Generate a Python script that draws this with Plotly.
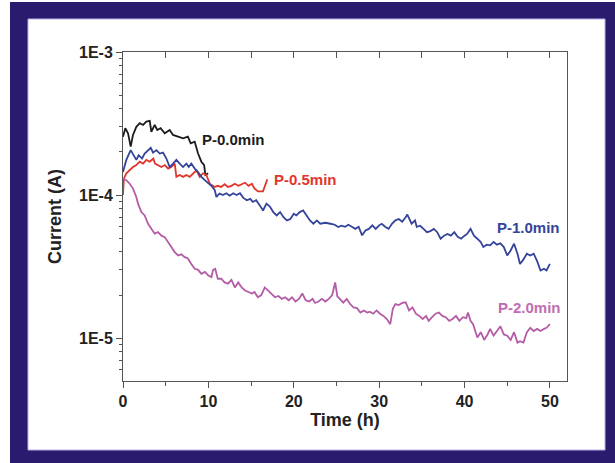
import math
import plotly.graph_objects as go

# ---------------- data ----------------
series_names = ["P-0.0min", "P-0.5min", "P-1.0min", "P-2.0min"]

t_p00 = [0, 0.27, 0.59, 0.9, 1.17, 1.56, 1.96, 2.35, 2.73, 3.13,
         3.32, 3.71, 4.02, 4.4, 4.89, 5.47, 5.86, 6.45, 7.03, 7.6,
         7.93, 8.4, 8.79, 9.18, 9.5, 9.65, 9.97]
i_p00 = [2.56e-4, 2.93e-4, 2.7e-4, 2.18e-4, 2.63e-4, 3.0e-4, 3.18e-4, 3.09e-4, 3.26e-4, 3.3e-4,
         2.77e-4, 3.09e-4, 2.85e-4, 2.93e-4, 2.7e-4, 2.85e-4, 2.63e-4, 2.56e-4, 2.49e-4, 2.56e-4,
         2.3e-4, 2.36e-4, 1.95e-4, 1.71e-4, 1.62e-4, 1.38e-4, 1.42e-4]

t_p05 = [0, 0.1, 0.39, 0.78, 1.17, 1.56, 1.96, 2.35, 2.73, 3.13,
         3.55, 3.75, 4.1, 4.5, 4.9, 5.28, 5.66, 6.06, 6.25, 6.64,
         7.03, 7.42, 7.81, 8.2, 8.6, 8.99, 9.38, 9.77, 10.16, 10.75,
         11.1, 11.5, 11.9, 12.3, 12.7, 13.1, 13.5, 13.9, 14.3, 14.7,
         15.1, 15.4, 15.8, 16.4, 16.6, 16.9]
i_p05 = [1.0e-4, 1.3e-4, 1.42e-4, 1.49e-4, 1.57e-4, 1.62e-4, 1.71e-4, 1.66e-4, 1.76e-4, 1.71e-4,
         1.8e-4, 1.66e-4, 1.62e-4, 1.57e-4, 1.62e-4, 1.53e-4, 1.57e-4, 1.66e-4, 1.34e-4, 1.38e-4,
         1.34e-4, 1.38e-4, 1.34e-4, 1.42e-4, 1.49e-4, 1.34e-4, 1.42e-4, 1.38e-4, 1.2e-4, 1.14e-4,
         1.16e-4, 1.14e-4, 1.19e-4, 1.14e-4, 1.16e-4, 1.2e-4, 1.16e-4, 1.19e-4, 1.22e-4, 1.16e-4,
         1.2e-4, 1.11e-4, 1.06e-4, 1.06e-4, 1.16e-4, 1.29e-4]

t_p10 = [0, 0.39, 0.9, 1.29, 1.56, 1.84, 2.23, 2.54, 2.93, 3.25,
         3.52, 3.91, 4.3, 4.69, 5.08, 5.47, 5.86, 6.25, 6.64, 7.03,
         7.42, 7.7, 8.0, 8.4, 8.79, 9.18, 9.58, 9.96, 10.35, 10.75,
         10.94, 11.3, 11.7, 12.1, 12.5, 12.9, 13.3, 13.7, 14.1, 14.5,
         14.9, 15.2, 15.6, 16.0, 16.4, 16.8, 17.2, 17.6, 18.0, 18.4,
         18.8, 19.2, 19.6, 20.0, 20.3, 20.7, 21.1, 21.5, 21.9, 22.3,
         22.7, 23.1, 23.7, 24.3, 24.8, 25.2, 25.6, 26.0, 26.4, 26.8,
         27.2, 27.6, 28.0, 28.4, 28.8, 29.2, 29.6, 30.0, 30.3, 30.7,
         31.1, 31.5, 31.9, 32.3, 32.7, 33.1, 33.3, 33.8, 34.2, 34.4,
         34.8, 35.2, 35.6, 36.0, 36.4, 36.8, 37.2, 37.6, 38.0, 38.4,
         38.8, 39.2, 39.6, 40.0, 40.3, 40.7, 41.1, 41.5, 41.9, 42.2,
         42.6, 43.0, 43.4, 43.8, 44.2, 44.6, 45.0, 45.4, 45.8, 46.2,
         46.5, 46.9, 47.3, 47.7, 48.1, 48.5, 48.9, 49.3, 49.6, 50.0]
i_p10 = [1.45e-4, 1.76e-4, 2.06e-4, 1.85e-4, 1.76e-4, 1.9e-4, 1.8e-4, 1.95e-4, 2.06e-4, 2.14e-4,
         1.98e-4, 2.06e-4, 1.95e-4, 1.98e-4, 1.8e-4, 1.57e-4, 1.66e-4, 1.76e-4, 1.66e-4, 1.57e-4,
         1.66e-4, 1.57e-4, 1.66e-4, 1.53e-4, 1.45e-4, 1.34e-4, 1.27e-4, 1.22e-4, 1.16e-4, 1.08e-4,
         9.7e-5, 1.025e-4, 1.0e-4, 1.03e-4, 9.9e-5, 1.03e-4, 1.0e-4, 1.03e-4, 9.55e-5, 9.2e-5,
         9.4e-5, 8.95e-5, 9.2e-5, 8.5e-5, 7.8e-5, 8.7e-5, 8.3e-5, 7.6e-5, 7.2e-5, 7.6e-5,
         7.0e-5, 6.65e-5, 6.8e-5, 7.4e-5, 7.2e-5, 7.6e-5, 7.8e-5, 7.2e-5, 6.65e-5, 6.3e-5,
         6.65e-5, 6.3e-5, 6.4e-5, 6.3e-5, 6.2e-5, 5.97e-5, 6.1e-5, 6.0e-5, 6.2e-5, 6.0e-5,
         5.8e-5, 6.0e-5, 5.23e-5, 5.66e-5, 5.8e-5, 6.14e-5, 5.8e-5, 6.14e-5, 6.3e-5, 6.0e-5,
         5.8e-5, 6.3e-5, 6.65e-5, 6.8e-5, 6.5e-5, 7.0e-5, 7.3e-5, 6.3e-5, 6.65e-5, 6.0e-5,
         6.1e-5, 5.8e-5, 5.5e-5, 5.6e-5, 5.8e-5, 5.5e-5, 4.95e-5, 5.2e-5, 5.35e-5, 5.2e-5,
         5.5e-5, 5.1e-5, 4.95e-5, 5.2e-5, 5.35e-5, 5.8e-5, 5.2e-5, 4.95e-5, 4.69e-5, 4.33e-5,
         4.5e-5, 4.45e-5, 4.7e-5, 4.5e-5, 4.6e-5, 4.33e-5, 3.78e-5, 4.1e-5, 4.57e-5, 3.89e-5,
         3.3e-5, 3.55e-5, 3.89e-5, 3.78e-5, 3.89e-5, 3.45e-5, 2.97e-5, 3.05e-5, 2.97e-5, 3.3e-5]

t_p20 = [0, 0.39, 0.78, 1.17, 1.56, 1.76, 2.15, 2.54, 2.93, 3.3,
         3.71, 4.1, 4.5, 4.89, 5.28, 5.66, 6.06, 6.45, 6.84, 7.23,
         7.6, 8.0, 8.4, 8.8, 9.18, 9.6, 9.96, 10.35, 10.55, 10.8,
         11.1, 11.5, 11.9, 12.3, 12.7, 13.1, 13.5, 13.9, 14.3, 14.7,
         15.1, 15.4, 15.8, 16.2, 16.6, 17.0, 17.4, 17.8, 18.2, 18.6,
         19.0, 19.4, 19.8, 20.2, 20.6, 21.0, 21.4, 21.8, 22.2, 22.5,
         22.9, 23.3, 23.7, 24.1, 24.5, 24.85, 25.1, 25.4, 25.8, 26.2,
         26.6, 27.0, 27.4, 27.8, 28.2, 28.6, 28.9, 29.3, 29.7, 30.1,
         30.5, 30.9, 31.3, 31.6, 31.9, 32.3, 32.7, 33.1, 33.5, 33.9,
         34.3, 34.7, 35.1, 35.5, 35.8, 36.2, 36.6, 37.0, 37.4, 37.8,
         38.2, 38.6, 39.0, 39.4, 39.8, 40.2, 40.4, 40.7, 41.0, 41.5,
         41.9, 42.3, 42.7, 43.0, 43.4, 43.8, 44.2, 44.6, 45.0, 45.4,
         45.8, 46.2, 46.5, 46.9, 47.3, 47.7, 48.1, 48.5, 48.9, 49.3,
         49.6, 50.0]
i_p20 = [1.3e-4, 1.27e-4, 1.2e-4, 1.11e-4, 9.7e-5, 8.7e-5, 7.6e-5, 7.2e-5, 6.3e-5, 5.8e-5,
         5.37e-5, 5.5e-5, 5.2e-5, 5.08e-5, 4.69e-5, 4.33e-5, 3.99e-5, 3.78e-5, 3.85e-5, 3.68e-5,
         3.6e-5, 3.3e-5, 3.05e-5, 3.0e-5, 2.81e-5, 2.9e-5, 2.75e-5, 2.67e-5, 3.0e-5, 3.05e-5,
         2.6e-5, 2.6e-5, 2.45e-5, 2.4e-5, 2.55e-5, 2.26e-5, 2.45e-5, 2.26e-5, 2.15e-5, 2.1e-5,
         2.05e-5, 2.1e-5, 1.93e-5, 2.0e-5, 2.26e-5, 2.15e-5, 2.05e-5, 1.93e-5, 1.97e-5, 1.88e-5,
         1.93e-5, 1.84e-5, 1.93e-5, 1.8e-5, 1.88e-5, 2.05e-5, 1.84e-5, 1.8e-5, 1.88e-5, 1.76e-5,
         1.8e-5, 1.88e-5, 1.8e-5, 1.88e-5, 2.0e-5, 2.45e-5, 1.96e-5, 1.88e-5, 1.77e-5, 1.88e-5,
         1.73e-5, 1.64e-5, 1.62e-5, 1.51e-5, 1.56e-5, 1.51e-5, 1.53e-5, 1.48e-5, 1.56e-5, 1.48e-5,
         1.43e-5, 1.36e-5, 1.25e-5, 1.6e-5, 1.73e-5, 1.7e-5, 1.76e-5, 1.78e-5, 1.56e-5, 1.64e-5,
         1.48e-5, 1.43e-5, 1.36e-5, 1.43e-5, 1.32e-5, 1.4e-5, 1.48e-5, 1.51e-5, 1.43e-5, 1.4e-5,
         1.32e-5, 1.36e-5, 1.43e-5, 1.32e-5, 1.4e-5, 1.38e-5, 1.51e-5, 1.32e-5, 1.25e-5, 1.01e-5,
         1.1e-5, 9.7e-6, 1.06e-5, 1.16e-5, 1.04e-5, 1.12e-5, 1.21e-5, 1.06e-5, 1.04e-5, 9.7e-6,
         1.1e-5, 9.3e-6, 9.5e-6, 9.3e-6, 1.1e-5, 1.18e-5, 1.12e-5, 1.16e-5, 1.12e-5, 1.16e-5,
         1.18e-5, 1.25e-5]

# label anchor positions (time, current)
label_t = [9.0, 17.5, 43.6, 43.7]
label_i = [2.43e-4, 1.29e-4, 5.97e-5, 1.64e-5]

x_ticks = [0, 10, 20, 30, 40, 50]
x_minor = [0, 5, 10, 15, 20, 25, 30, 35, 40, 45, 50]
y_ticks = [1e-5, 1e-4, 1e-3]
y_ticktext = ["1E-5", "1E-4", "1E-3"]

# ---------------- styling ----------------
line_colors = ["#1c1c1c", "#e2362c", "#33449a", "#b45ca6"]
text_colors = ["#1c1c1c", "#e2362c", "#33449a", "#c06cb2"]
FONT = "Liberation Sans, Arial, sans-serif"

W, H = 615, 463
L, R, T, B = 123, 48, 52, 82
pw, ph = W - L - R, H - T - B

def px_x(p):
    return (p - L) / pw

def px_y(p):
    return (H - B - p) / ph

fig = go.Figure()

for t, i, c in zip([t_p00, t_p05, t_p10, t_p20], [i_p00, i_p05, i_p10, i_p20], line_colors):
    fig.add_trace(go.Scatter(x=t, y=i, mode="lines", line=dict(color=c, width=1.8),
                             showlegend=False, hoverinfo="skip"))

# empty trace to register the top tick axis
fig.add_trace(go.Scatter(x=[], y=[], xaxis="x2", yaxis="y", showlegend=False, hoverinfo="skip"))

for name, lt, li, c in zip(series_names, label_t, label_i, text_colors):
    fig.add_annotation(x=lt, y=math.log10(li), yref="y", xref="x", text=name, showarrow=False,
                       xanchor="left", yanchor="middle",
                       font=dict(family=FONT, size=15, color=c, weight="bold"))

# frame: navy border with white panel
fig.add_shape(type="rect", xref="paper", yref="paper", layer="below",
              x0=px_x(10), x1=px_x(616), y0=px_y(2), y1=px_y(464),
              fillcolor="#2b1b6e", line=dict(width=0))
fig.add_shape(type="rect", xref="paper", yref="paper", layer="below",
              x0=px_x(28), x1=px_x(605), y0=px_y(19), y1=px_y(450),
              fillcolor="white", line=dict(width=1, color="#b9b0e6"))

axis_font = dict(family=FONT, size=16, color="#222", weight="bold")
title_font = dict(family=FONT, size=18, color="#222", weight="bold")

fig.update_layout(
    width=W, height=H,
    margin=dict(l=L, r=R, t=T, b=B),
    paper_bgcolor="white", plot_bgcolor="white",
    xaxis=dict(range=[0, 52], tickvals=x_ticks, ticks="outside", ticklen=6, tickwidth=1,
               tickcolor="#555", showline=True, linecolor="#555", linewidth=1, mirror=True,
               showgrid=False, zeroline=False, tickfont=axis_font,
               minor=dict(tickvals=x_minor, ticks="outside", ticklen=4, tickcolor="#555"),
               title=dict(text="Time (h)", font=title_font, standoff=3)),
    xaxis2=dict(range=[0, 52], overlaying="x", side="top", tickvals=x_minor, ticks="inside",
                ticklen=6, tickcolor="#555", showticklabels=False, showline=False,
                showgrid=False, zeroline=False),
    yaxis=dict(type="log", range=[-5.3, -3], tickvals=y_ticks, ticktext=y_ticktext,
               ticks="outside", ticklen=6, tickcolor="#555", showline=True, linecolor="#555",
               linewidth=1, mirror=True, showgrid=False, zeroline=False, tickfont=axis_font,
               minor=dict(ticks="outside", ticklen=3, tickcolor="#555", dtick="D1", showgrid=False),
               title=dict(text="Current (A)", font=title_font, standoff=12)),
)

fig.write_html("out.html")
